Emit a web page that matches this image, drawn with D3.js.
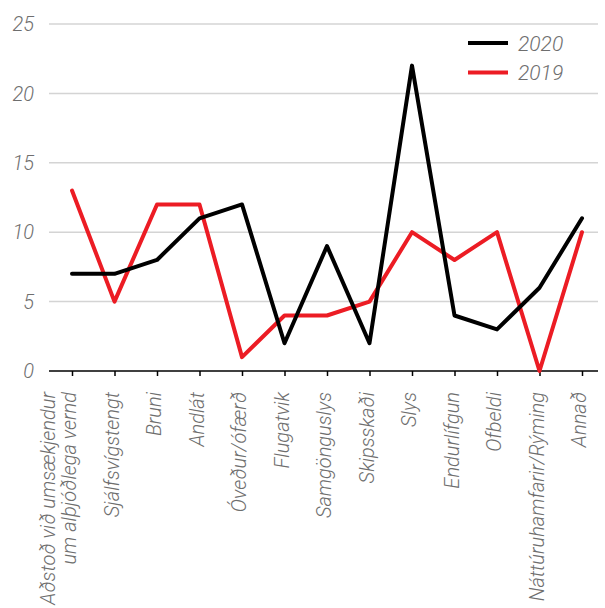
<!DOCTYPE html>
<html>
<head>
<meta charset="utf-8">
<script src="https://cdn.jsdelivr.net/npm/d3@7"></script>
<style>
  body { margin: 0; background: #fff; }
  text { font-family: Roboto, "Liberation Sans", sans-serif; font-style: italic; font-weight: 300; fill: #6e6e6e; }
</style>
</head>
<body>
<svg id="chart" width="605" height="608"></svg>
<script>
var categories = ["Aðstoð við umsækjendur|um alþjóðlega vernd", "Sjálfsvígstengt", "Bruni", "Andlát", "Óveður/ófærð",
  "Flugatvik", "Samgönguslys", "Skipsskaði", "Slys", "Endurlífgun", "Ofbeldi", "Náttúruhamfarir/Rýming", "Annað"];
var values2020 = [7, 7, 8, 11, 12, 2, 9, 2, 22, 4, 3, 6, 11];
var values2019 = [13, 5, 12, 12, 1, 4, 4, 5, 10, 8, 10, 0, 10];
var yTicks = [0, 5, 10, 15, 20, 25];
var seriesNames = ["2020", "2019"];
var seriesColors = ["#000000", "#ec1c24"];

var svg = d3.select("#chart");
var mLeft = 49, mRight = 598, mTop = 24, mBottom = 371;

var x = d3.scalePoint().domain(categories).range([72, 582]);
var y = d3.scaleLinear().domain([0, 25]).range([mBottom, mTop]);

// gridlines
svg.append("g").selectAll("line")
  .data(yTicks.filter(function(d) { return d > 0; }))
  .enter().append("line")
    .attr("x1", mLeft).attr("x2", mRight)
    .attr("y1", function(d) { return y(d); }).attr("y2", function(d) { return y(d); })
    .attr("stroke", "#d4d4d4").attr("stroke-width", 1.5);

// y labels
svg.append("g").selectAll("text")
  .data(yTicks)
  .enter().append("text")
    .attr("x", 34).attr("y", function(d) { return y(d); })
    .attr("dy", "0.36em")
    .attr("text-anchor", "end")
    .style("font-size", "20px")
    .text(function(d) { return d; });

// x axis
var xAxis = svg.append("g").attr("transform", "translate(0," + mBottom + ")")
  .call(d3.axisBottom(x).tickSize(5).tickFormat(""));
xAxis.select(".domain").attr("d", "M" + mLeft + ",0H" + mRight).attr("stroke", "#000").attr("stroke-width", 1.5);
xAxis.selectAll(".tick line").attr("stroke", "#000").attr("stroke-width", 1.5);

// rotated labels
var lbl = svg.append("g").selectAll("text")
  .data(categories)
  .enter().append("text")
    .attr("text-anchor", "end")
    .style("font-size", "20px")
    .attr("transform", function(d) { return "translate(" + (x(d) + 4) + "," + 392 + ") rotate(-90)"; });
lbl.each(function(d) {
  var parts = d.split("|");
  var t = d3.select(this);
  parts.forEach(function(p, i) {
    t.append("tspan").attr("x", 0).attr("y", (i - parts.length + 1) * 21).text(p);
  });
});

// lines
var line = d3.line()
  .x(function(d, i) { return x(categories[i]); })
  .y(function(d) { return y(d); });

[values2019, values2020].forEach(function(vals, k) {
  svg.append("path")
    .datum(vals)
    .attr("fill", "none")
    .attr("stroke", k == 0 ? seriesColors[1] : seriesColors[0])
    .attr("stroke-width", 4)
    .attr("stroke-linejoin", "round")
    .attr("stroke-linecap", "round")
    .attr("d", line);
});

// legend
var leg = svg.append("g").selectAll("g")
  .data(seriesNames)
  .enter().append("g")
    .attr("transform", function(d, i) { return "translate(468," + (43 + i * 29.5) + ")"; });
leg.append("line").attr("x1", 0).attr("x2", 40)
  .attr("stroke", function(d, i) { return seriesColors[i]; })
  .attr("stroke-width", 4);
leg.append("text").attr("x", 50).attr("dy", "0.36em")
  .style("font-size", "21px")
  .text(function(d) { return d; });
</script>
</body>
</html>
